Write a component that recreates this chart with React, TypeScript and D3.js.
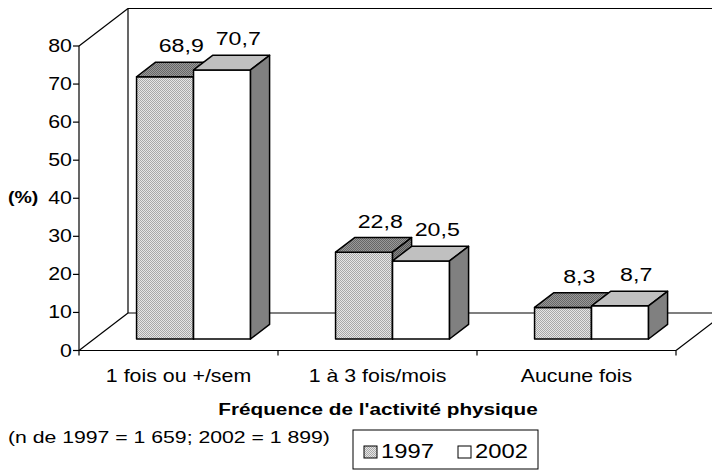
import React from "react";
import * as d3 from "d3";

const categories = ["1 fois ou +/sem", "1 à 3 fois/mois", "Aucune fois"];
const seriesNames = ["1997", "2002"];
const values1997 = [68.9, 22.8, 8.3];
const values2002 = [70.7, 20.5, 8.7];
const valueLabels1997 = ["68,9", "22,8", "8,3"];
const valueLabels2002 = ["70,7", "20,5", "8,7"];
const yTicks = [0, 10, 20, 30, 40, 50, 60, 70, 80];

const W = 712;
const H = 470;
// 3d frame
const X0 = 79;
const X1 = 676;
const Y0 = 350.5;
const YTOP = 46;
const DX = 49;
const DY = 37.5;
const F0 = 0.307; // bar front depth
const F1 = 0.696; // bar back depth
const SX = 1.22; // text looks stretched sideways
const FONT = "'Liberation Sans', Arial, sans-serif";

const Txt = ({ x, y, size, anchor = "start", bold = false, children }: any) => (
  <text
    transform={`translate(${x},${y}) scale(${SX},1)`}
    fontSize={size}
    fontFamily={FONT}
    fontWeight={bold ? "bold" : "normal"}
    textAnchor={anchor}
    fill="#000"
  >
    {children}
  </text>
);

export default function App() {
  const x = d3.scaleBand().domain(categories).range([X0, X1]).paddingInner(0).paddingOuter(0);
  const xs = d3.scaleBand().domain(seriesNames).range([0, x.bandwidth()]).paddingInner(0).paddingOuter(0.746);
  const y = d3.scaleLinear().domain([0, 80]).range([Y0, YTOP]);

  const series = [
    { name: "1997", values: values1997, labels: valueLabels1997, front: "url(#dot1997)", top: "url(#dotTop)", side: "url(#dotSide)" },
    { name: "2002", values: values2002, labels: valueLabels2002, front: "#ffffff", top: "#c0c0c0", side: "#808080" },
  ];

  const ddx = (F1 - F0) * DX;
  const ddy = (F1 - F0) * DY;
  const w = xs.bandwidth();

  const bars: any[] = [];
  const labels: any[] = [];
  categories.forEach((c, i) => {
    series.forEach((s) => {
      const xF = (x(c) as number) + (xs(s.name) as number) + F0 * DX;
      const yB = Y0 - F0 * DY;
      const h = Y0 - y(s.values[i]);
      const yT = yB - h;
      const pts = (p: number[][]) => p.map((q) => q.join(",")).join(" ");
      bars.push(
        <g key={`${c}-${s.name}`} stroke="#000" strokeWidth={1.5} strokeLinejoin="round">
          <rect x={xF} y={yT} width={w} height={h} fill={s.front} />
          <polygon points={pts([[xF, yT], [xF + ddx, yT - ddy], [xF + w + ddx, yT - ddy], [xF + w, yT]])} fill={s.top} />
          <polygon points={pts([[xF + w, yT], [xF + w + ddx, yT - ddy], [xF + w + ddx, yB - ddy], [xF + w, yB]])} fill={s.side} />
        </g>
      );
      labels.push(
        <Txt key={`l-${c}-${s.name}`} x={xF + w / 2 + ddx * 0.85} y={yT - ddy - 10} size={19} anchor="middle">
          {s.labels[i]}
        </Txt>
      );
    });
  });

  const bx = X0 + DX;
  const byTop = YTOP - DY;
  const byBot = Y0 - DY;

  return (
    <svg width={W} height={H} style={{ position: "absolute", left: 0, top: 0 }}>
      <defs>
        <pattern id="dot1997" width={2} height={2} patternUnits="userSpaceOnUse">
          <rect width={2} height={2} fill="#e6e6e6" />
          <rect width={1} height={1} fill="#a8a8a8" />
          <rect x={1} y={1} width={1} height={1} fill="#a8a8a8" />
        </pattern>
        <pattern id="dotTop" width={2} height={2} patternUnits="userSpaceOnUse">
          <rect width={2} height={2} fill="#9a9a9a" />
          <rect width={1} height={1} fill="#666" />
          <rect x={1} y={1} width={1} height={1} fill="#666" />
        </pattern>
        <pattern id="dotSide" width={2} height={2} patternUnits="userSpaceOnUse">
          <rect width={2} height={2} fill="#8a8a8a" />
          <rect width={1} height={1} fill="#555" />
          <rect x={1} y={1} width={1} height={1} fill="#555" />
        </pattern>
      </defs>
      <rect width={W} height={H} fill="#fff" />

      {/* walls and floor */}
      <g stroke="#000" strokeWidth={1.2} fill="none">
        <line x1={X0} y1={YTOP} x2={bx} y2={byTop} />
        <line x1={bx} y1={byTop} x2={W + 20} y2={byTop} />
        <line x1={bx} y1={byTop} x2={bx} y2={byBot} />
        <line x1={X0} y1={Y0} x2={bx} y2={byBot} />
        <line x1={bx} y1={byBot} x2={X1 + DX} y2={byBot} />
        <line x1={X1} y1={Y0} x2={X1 + DX} y2={byBot} />
      </g>

      {/* axes */}
      <g stroke="#000" strokeWidth={1.2}>
        <line x1={X0} y1={YTOP} x2={X0} y2={Y0} />
        <line x1={X0} y1={Y0} x2={X1} y2={Y0} />
        {yTicks.map((t) => (
          <line key={t} x1={X0 - 6} y1={y(t)} x2={X0} y2={y(t)} />
        ))}
        {[...categories.map((c) => x(c) as number), X1].map((v, i) => (
          <line key={i} x1={v} y1={Y0} x2={v} y2={Y0 + 5} />
        ))}
      </g>
      {yTicks.map((t) => (
        <Txt key={t} x={X0 - 7} y={y(t) + 6} size={17.5} anchor="end">
          {t}
        </Txt>
      ))}

      {bars}
      {labels}

      {categories.map((c) => (
        <Txt key={c} x={(x(c) as number) + x.bandwidth() / 2} y={382} size={17.5} anchor="middle">
          {c}
        </Txt>
      ))}

      <Txt x={8} y={203} size={16} bold>
        (%)
      </Txt>
      <Txt x={378} y={415} size={17} anchor="middle" bold>
        Fréquence de l'activité physique
      </Txt>
      <Txt x={8} y={443} size={17.4}>
        (n de 1997 = 1 659; 2002 = 1 899)
      </Txt>

      {/* legend */}
      <rect x={353} y={430} width={185} height={39} fill="#fff" stroke="#000" strokeWidth={1} />
      <rect x={364} y={446} width={13} height={12} fill="url(#dot1997)" stroke="#000" strokeWidth={1} />
      <Txt x={381} y={458} size={19.5}>
        1997
      </Txt>
      <rect x={458} y={446} width={13} height={12} fill="#fff" stroke="#000" strokeWidth={1} />
      <Txt x={475} y={458} size={19.5}>
        2002
      </Txt>
    </svg>
  );
}
